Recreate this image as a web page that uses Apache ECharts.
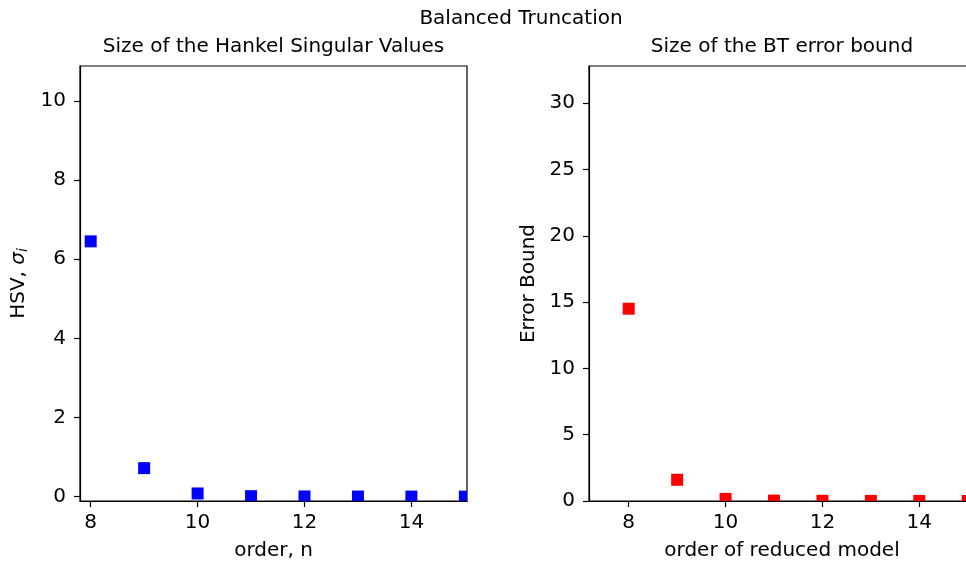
<!DOCTYPE html>
<html>
<head>
<meta charset="utf-8">
<script src="https://cdn.jsdelivr.net/npm/echarts@6/dist/echarts.min.js"></script>
<style>
  html, body { margin: 0; padding: 0; background: #fff; }
  #chart { width: 966px; height: 563px; }
</style>
</head>
<body>
<div id="chart"></div>
<script>
// Model orders shown on both panels
const orders = [8, 9, 10, 11, 12, 13, 14, 15];
// Hankel singular values per order
const hsv = [6.45, 0.72, 0.08, 0.012, 0.005, 0.003, 0.0015, 0.0008];
// Balanced truncation error bound per reduced order
const errorBound = [14.5, 1.6, 0.16, 0.03, 0.014, 0.007, 0.003, 0.0016];

// Tick values
const xTicks = [8, 10, 12, 14];
const hsvTicks = [0, 2, 4, 6, 8, 10];
const boundTicks = [0, 5, 10, 15, 20, 25, 30];

const FONT = 'DejaVu Sans';
const FS = 20;
const INK = '#000';
const MARK = 12;

const chart = echarts.init(document.getElementById('chart'), null, { renderer: 'canvas' });

function xAxis(gridIndex, min, max, name) {
  return {
    type: 'value', gridIndex, min, max,
    name, nameLocation: 'middle', nameGap: 40,
    nameTextStyle: { fontFamily: FONT, fontSize: FS, color: INK },
    axisLine: { show: true, onZero: false, lineStyle: { color: INK, width: 1.2 } },
    axisTick: { show: true, length: 6, inside: false, customValues: xTicks, lineStyle: { color: INK, width: 1.2 } },
    axisLabel: { customValues: xTicks, margin: 12, fontFamily: FONT, fontSize: FS, color: INK },
    splitLine: { show: false }
  };
}

function yAxis(gridIndex, min, max, ticks, name, nameGap) {
  return {
    type: 'value', gridIndex, min, max,
    name, nameLocation: 'middle', nameGap,
    nameTextStyle: {
      fontFamily: FONT, fontSize: FS, color: INK,
      rich: {
        n: { fontFamily: FONT, fontSize: FS, color: INK },
        s: { fontFamily: FONT, fontSize: FS, fontStyle: 'italic', color: INK },
        i: { fontFamily: FONT, fontSize: 14, fontStyle: 'italic', color: INK, verticalAlign: 'bottom', padding: [8, 0, 0, 0] }
      }
    },
    axisLine: { show: true, onZero: false, lineStyle: { color: INK, width: 1.2 } },
    axisTick: { show: true, length: 6, inside: false, customValues: ticks, lineStyle: { color: INK, width: 1.2 } },
    axisLabel: { customValues: ticks, margin: 14, fontFamily: FONT, fontSize: FS, color: INK },
    splitLine: { show: false }
  };
}

// Square markers clipped to the plotting area
function squareMarks(color) {
  return function (params, api) {
    const p = api.coord([api.value(0), api.value(1)]);
    const cs = params.coordSys;
    const shape = echarts.graphic.clipRectByRect(
      { x: p[0] - MARK / 2, y: p[1] - MARK / 2, width: MARK, height: MARK },
      { x: cs.x, y: cs.y, width: cs.width, height: cs.height }
    );
    if (!shape) return null;
    return { type: 'rect', shape, style: { fill: color } };
  };
}

const option = {
  backgroundColor: '#fff',
  animation: false,
  title: [
    { text: 'Balanced Truncation', left: 521, top: 9, textAlign: 'center', padding: 0,
      textStyle: { fontFamily: FONT, fontSize: FS, fontWeight: 'normal', color: INK } },
    { text: 'Size of the Hankel Singular Values', left: 273.5, top: 37, textAlign: 'center', padding: 0,
      textStyle: { fontFamily: FONT, fontSize: FS, fontWeight: 'normal', color: INK } },
    { text: 'Size of the BT error bound', left: 782, top: 37, textAlign: 'center', padding: 0,
      textStyle: { fontFamily: FONT, fontSize: FS, fontWeight: 'normal', color: INK } }
  ],
  grid: [
    { left: 80, top: 66, width: 387, height: 435, outerBoundsMode: 'none', containLabel: false,
      show: true, borderColor: INK, borderWidth: 1.2, backgroundColor: 'transparent' },
    { left: 589, top: 66, width: 386, height: 435, outerBoundsMode: 'none', containLabel: false,
      show: true, borderColor: INK, borderWidth: 1.2, backgroundColor: 'transparent' }
  ],
  xAxis: [
    xAxis(0, 7.8, 15.04, 'order, n'),
    xAxis(1, 7.18, 15.15, 'order of reduced model')
  ],
  yAxis: [
    yAxis(0, -0.11, 10.88, hsvTicks, '{n|HSV, }{s|σ}{i|i}', 50),
    yAxis(1, 0, 32.8, boundTicks, 'Error Bound', 50)
  ],
  series: [
    {
      type: 'custom', xAxisIndex: 0, yAxisIndex: 0,
      renderItem: squareMarks('#0000ff'),
      encode: { x: 0, y: 1 },
      data: orders.map((o, k) => [o, hsv[k]])
    },
    {
      type: 'custom', xAxisIndex: 1, yAxisIndex: 1,
      renderItem: squareMarks('#ff0000'),
      encode: { x: 0, y: 1 },
      data: orders.map((o, k) => [o, errorBound[k]])
    }
  ]
};

chart.setOption(option);
</script>
</body>
</html>
